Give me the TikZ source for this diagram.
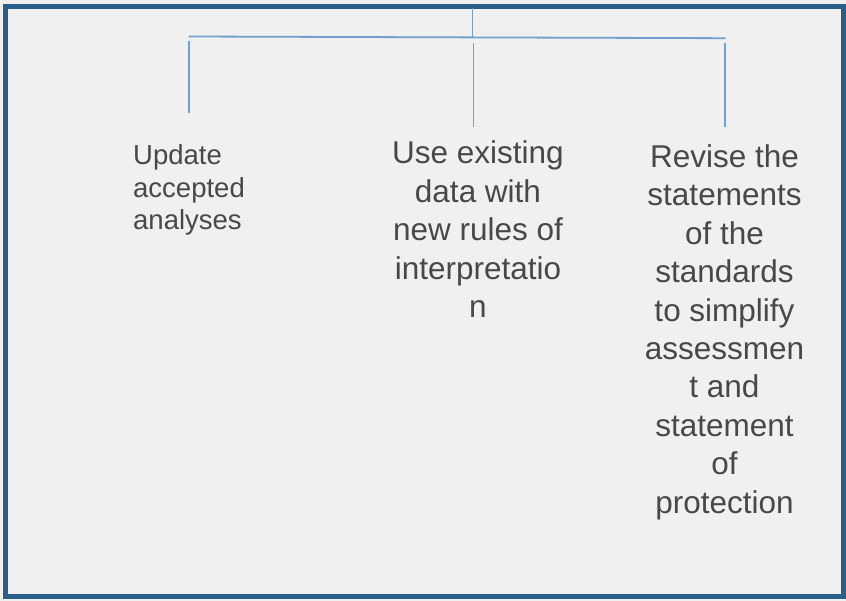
\documentclass[tikz,border=0pt]{standalone}
\usepackage{fontspec}
\setmainfont{Liberation Sans}
\definecolor{framecol}{RGB}{42,95,138}
\definecolor{bgcol}{RGB}{240,240,240}
\definecolor{linecol}{RGB}{112,160,205}
\definecolor{txtcol}{RGB}{72,72,72}
\tikzset{
  conn/.style={draw=linecol, line width=1.8pt},
  smalltxt/.style={text=txtcol, inner sep=0pt, align=left, font=\fontsize{27.5}{32.5}\selectfont},
  bigtxt/.style={text=txtcol, inner sep=0pt, align=center, font=\fontsize{31.5}{38.4}\selectfont},
}
\begin{document}
\begin{tikzpicture}[x=1pt, y=-1pt]
\useasboundingbox (0,0) rectangle (846,601);
\fill[bgcol] (0,0) rectangle (846,601);
\draw[framecol, line width=4.6pt] (5.5,6.5) rectangle (843.5,596.5);
% tree coordinates
\coordinate (root) at (472.5,8.5);
\coordinate (hub) at (472.5,36.8);
\coordinate (hl) at (188.5,36.5);
\coordinate (hr) at (725.5,38.2);
\coordinate (l1) at (188.7,41);
\coordinate (l2) at (188.7,113);
\coordinate (m1) at (473.5,43);
\coordinate (m2) at (473.5,127);
\coordinate (r1) at (725.2,43);
\coordinate (r2) at (725.2,127);
\draw[conn] (root) -- (hub);
\draw[conn] (hl) -- (hr);
\draw[conn] (l1) -- (l2);
\draw[conn] (m1) -- (m2);
\draw[conn] (r1) -- (r2);
% texts (base anchor = baseline of the last line)
\node[smalltxt, anchor=base west] (left) at (133,230) {Update\\accepted\\analyses};
\node[bigtxt, anchor=base] (mid) at (478,317.5) {Use existing\\data with\\new rules of\\interpretatio\\n};
\node[bigtxt, anchor=base] (right) at (724.5,513) {Revise the\\statements\\of the\\standards\\to simplify\\assessmen\\t and\\statement\\of\\protection};
\end{tikzpicture}
\end{document}
